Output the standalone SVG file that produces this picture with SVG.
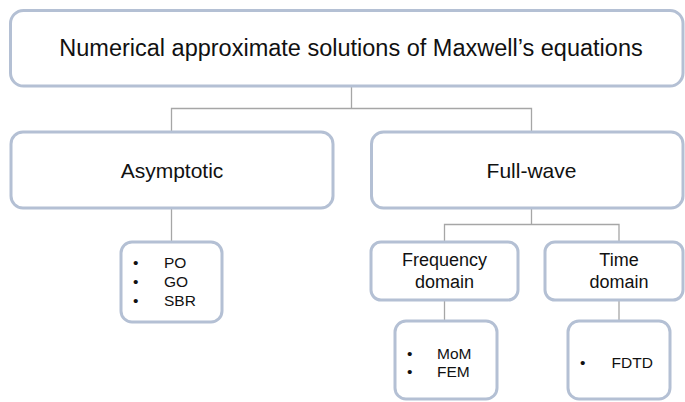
<svg xmlns="http://www.w3.org/2000/svg" width="685" height="402" viewBox="0 0 685 402">
  <style>
    .box { fill: #ffffff; stroke: #b4c0d4; stroke-width: 3; }
    .link { fill: none; stroke: #a6a6a6; stroke-width: 1.3; }
    text { font-family: "Liberation Sans", Arial, sans-serif; fill: #111111; }
    .t1 { font-size: 23.5px; text-anchor: middle; }
    .t2 { font-size: 21px; text-anchor: middle; }
    .t3 { font-size: 18px; text-anchor: middle; }
    .li { font-size: 15.5px; }
  </style>
  <rect width="685" height="402" fill="#ffffff"/>

  <!-- tree connectors -->
  <g id="connectors">
    <path class="link" d="M351.5 86 V108.5 M171.5 132 V108.5 H531.5 V132"/>
    <path class="link" d="M171.5 208 V242"/>
    <path class="link" d="M531.5 208 V224.5 M444.5 242 V224.5 H619 V242"/>
    <path class="link" d="M444.5 300 V321"/>
    <path class="link" d="M619 300 V321"/>
  </g>

  <g id="root">
    <rect class="box" x="10.5" y="10.5" width="672.5" height="75.5" rx="13"/>
    <text class="t1" x="351" y="56">Numerical approximate solutions of Maxwell’s equations</text>
  </g>

  <g id="asymptotic">
    <rect class="box" x="11" y="132" width="322" height="76" rx="12"/>
    <text class="t2" x="172" y="177.5">Asymptotic</text>
  </g>

  <g id="full-wave">
    <rect class="box" x="371.5" y="132" width="311.5" height="76" rx="12"/>
    <text class="t2" x="531.5" y="177.5">Full-wave</text>
  </g>

  <g id="asymptotic-methods">
    <rect class="box" x="121" y="242" width="101" height="80" rx="11"/>
    <text class="li" x="133" y="267.5">•</text>
    <text class="li" x="164" y="267.5">PO</text>
    <text class="li" x="133" y="286.5">•</text>
    <text class="li" x="164" y="286.5">GO</text>
    <text class="li" x="133" y="305.5">•</text>
    <text class="li" x="164" y="305.5">SBR</text>
  </g>

  <g id="frequency-domain">
    <rect class="box" x="371" y="242" width="147" height="58" rx="10"/>
    <text class="t3" x="444.5" y="266">Frequency</text>
    <text class="t3" x="444.5" y="288">domain</text>
  </g>

  <g id="time-domain">
    <rect class="box" x="545" y="242" width="138" height="58" rx="10"/>
    <text class="t3" x="619" y="266">Time</text>
    <text class="t3" x="619" y="288">domain</text>
  </g>

  <g id="frequency-methods">
    <rect class="box" x="395" y="321" width="102" height="78" rx="11"/>
    <text class="li" x="407" y="358.5">•</text>
    <text class="li" x="437" y="358.5">MoM</text>
    <text class="li" x="407" y="377">•</text>
    <text class="li" x="437" y="377">FEM</text>
  </g>

  <g id="time-methods">
    <rect class="box" x="568" y="321" width="102" height="78" rx="11"/>
    <text class="li" x="580" y="368">•</text>
    <text class="li" x="611.5" y="368">FDTD</text>
  </g>
</svg>
